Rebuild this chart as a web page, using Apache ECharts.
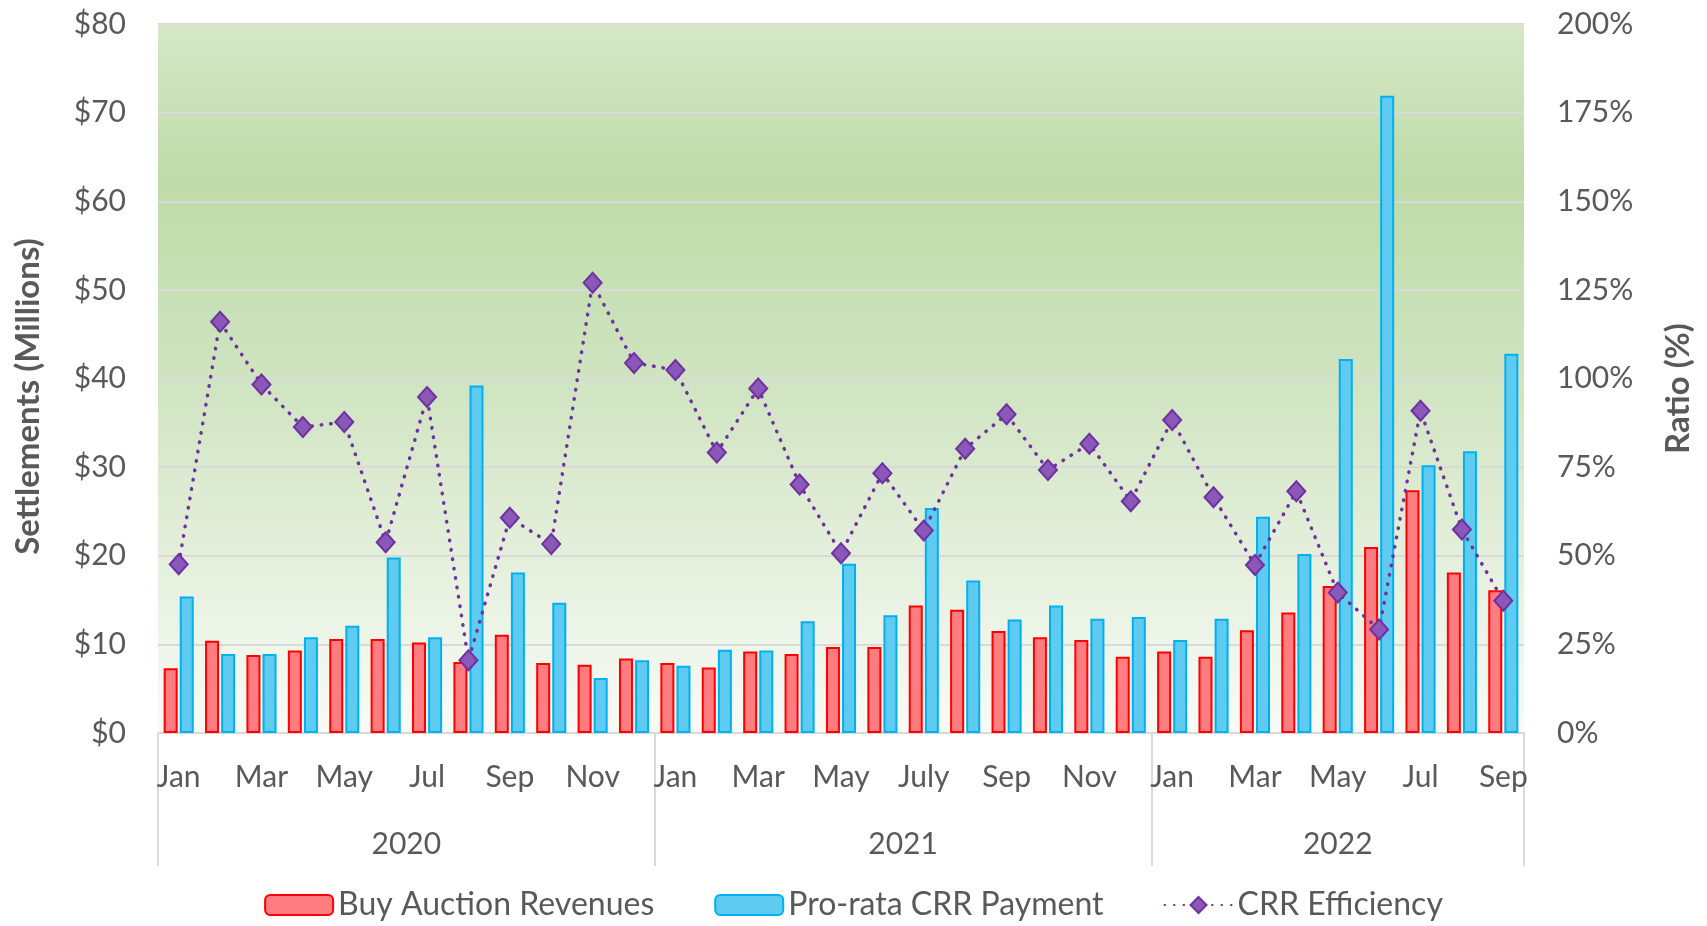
<!DOCTYPE html>
<html>
<head>
<meta charset="utf-8">
<script src="https://cdn.jsdelivr.net/npm/echarts@6/dist/echarts.min.js"></script>
<style>
html, body { margin: 0; padding: 0; background: #fff; }
#main { width: 1707px; height: 926px; }
</style>
</head>
<body>
<div id="main"></div>
<script>
// month labels per year (2021 uses "July" like the source)
var months2020 = ['Jan', 'Feb', 'Mar', 'Apr', 'May', 'Jun', 'Jul', 'Aug', 'Sep', 'Oct', 'Nov', 'Dec'];
var months2021 = ['Jan', 'Feb', 'Mar', 'Apr', 'May', 'Jun', 'July', 'Aug', 'Sep', 'Oct', 'Nov', 'Dec'];
var months2022 = ['Jan', 'Feb', 'Mar', 'Apr', 'May', 'Jun', 'Jul', 'Aug', 'Sep'];
var years = ['2020', '2021', '2022'];

// $ millions
var buyAuction = [7.3, 10.4, 8.8, 9.3, 10.6, 10.6, 10.2, 8.0, 11.1, 7.9, 7.7, 8.4,
                  7.9, 7.4, 9.2, 8.9, 9.7, 9.7, 14.4, 13.9, 11.5, 10.8, 10.5, 8.6,
                  9.2, 8.6, 11.6, 13.6, 16.6, 21.0, 27.4, 18.1, 16.1];
var proRata = [15.4, 8.9, 8.9, 10.8, 12.1, 19.8, 10.8, 39.2, 18.1, 14.7, 6.2, 8.2,
               7.6, 9.4, 9.3, 12.6, 19.1, 13.3, 25.4, 17.2, 12.8, 14.4, 12.9, 13.1,
               10.5, 12.9, 24.4, 20.2, 42.2, 71.9, 30.2, 31.8, 42.8];
// percent
var efficiency = [47.6, 116.0, 98.3, 86.3, 87.7, 53.8, 94.8, 20.5, 60.7, 53.3, 127.0, 104.4,
                  102.4, 79.1, 97.2, 70.1, 50.7, 73.3, 57.1, 80.2, 89.9, 74.2, 81.6, 65.4,
                  88.3, 66.5, 47.4, 68.2, 39.6, 29.2, 90.9, 57.4, 37.3];

var months = months2020.concat(months2021, months2022);
var groupSizes = [months2020.length, months2021.length, months2022.length];
var bounds = [0];
var centers = [];
groupSizes.forEach(function (n, i) {
    centers.push(bounds[i] + n / 2);
    bounds.push(bounds[i] + n);
});

var txt = '#595959';
var font = 'Lato';

var myChart = echarts.init(document.getElementById('main'));
var option = {
    animation: false,
    textStyle: { fontFamily: font, color: txt },
    grid: {
        left: 158, right: 183, top: 24, bottom: 193,
        show: true,
        borderWidth: 0,
        backgroundColor: new echarts.graphic.LinearGradient(0, 0, 0, 1, [
            { offset: 0, color: '#D5E7C8' },
            { offset: 0.22, color: '#BEDBA8' },
            { offset: 0.5, color: '#CFE4C0' },
            { offset: 0.75, color: '#E4EFDC' },
            { offset: 1, color: '#F8FBF6' }
        ])
    },
    legend: {
        bottom: 0,
        left: 'center',
        itemWidth: 68,
        itemHeight: 20,
        itemGap: 60,
        textStyle: { fontFamily: font, fontSize: 32, color: txt },
        data: ['Buy Auction Revenues', 'Pro-rata CRR Payment', 'CRR Efficiency']
    },
    xAxis: [{
        type: 'category',
        data: months,
        position: 'bottom',
        axisLine: { lineStyle: { color: '#D9D9D9', width: 2 } },
        axisTick: { show: false },
        axisLabel: { interval: 1, margin: 29, fontSize: 30, color: txt, fontFamily: font }
    }, {
        type: 'value',
        min: 0,
        max: bounds[bounds.length - 1],
        position: 'bottom',
        axisLine: { show: false },
        splitLine: { show: false },
        axisTick: {
            show: true, customValues: bounds, length: 133, inside: false,
            lineStyle: { color: '#D9D9D9', width: 2 }
        },
        axisLabel: {
            customValues: centers,
            margin: 96, fontSize: 30, color: txt, fontFamily: font,
            formatter: function (v) { return years[centers.indexOf(v)]; }
        }
    }],
    yAxis: [{
        type: 'value',
        min: 0, max: 80, interval: 10,
        name: 'Settlements (Millions)',
        nameLocation: 'middle',
        nameGap: 113,
        nameTextStyle: { fontSize: 33, fontWeight: 'bold', color: txt, fontFamily: font, padding: [0, 36, 0, 0] },
        axisLine: { show: false },
        axisTick: { show: false },
        axisLabel: { margin: 32, fontSize: 30, color: txt, fontFamily: font, formatter: '${value}' },
        splitLine: { lineStyle: { color: '#D9D9D9', width: 2 } }
    }, {
        type: 'value',
        min: 0, max: 200, interval: 25,
        name: 'Ratio (%)',
        nameLocation: 'middle',
        nameGap: 138,
        nameTextStyle: { fontSize: 33, fontWeight: 'bold', color: txt, fontFamily: font, padding: [0, 20, 0, 0] },
        axisLine: { show: false },
        axisTick: { show: false },
        axisLabel: { margin: 33, fontSize: 30, color: txt, fontFamily: font, formatter: '{value}%' },
        splitLine: { show: false }
    }],
    series: [{
        name: 'Buy Auction Revenues',
        type: 'bar',
        barWidth: 14,
        barGap: '15%',
        itemStyle: { color: '#FF7C80', borderColor: '#FF0000', borderWidth: 2 },
        data: buyAuction
    }, {
        name: 'Pro-rata CRR Payment',
        type: 'bar',
        barWidth: 14,
        itemStyle: { color: '#5FCBF0', borderColor: '#00B0F0', borderWidth: 2 },
        data: proRata
    }, {
        name: 'CRR Efficiency',
        type: 'line',
        yAxisIndex: 1,
        symbol: 'diamond',
        symbolSize: [18, 20],
        itemStyle: { color: '#8A58B8', borderColor: '#7030A0', borderWidth: 2 },
        lineStyle: { color: '#7030A0', width: 3.5, type: [0.5, 9], cap: 'round' },
        data: efficiency
    }]
};
myChart.setOption(option);
</script>
</body>
</html>
